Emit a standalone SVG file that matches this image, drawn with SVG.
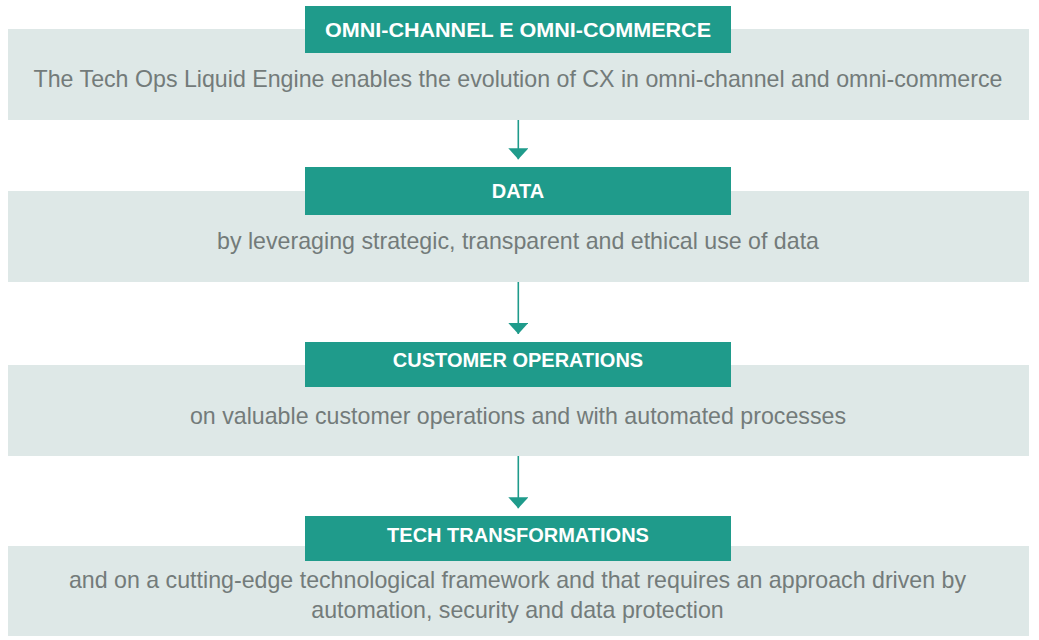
<svg xmlns="http://www.w3.org/2000/svg" width="1039" height="640" viewBox="0 0 1039 640">
  <style>
    .box { fill: #dee8e7; }
    .head { fill: #1f9b8b; }
    .ht { font-family: "Liberation Sans", Arial, sans-serif; font-weight: bold; font-size: 20px; fill: #ffffff; text-anchor: middle; }
    .bt { font-family: "Liberation Sans", Arial, sans-serif; font-size: 23.2px; fill: #737b7a; text-anchor: middle; }
    .conn { stroke: #1f9b8b; stroke-width: 1.6; fill: none; }
  </style>
  <defs>
    <marker id="arr" markerUnits="userSpaceOnUse" markerWidth="11" markerHeight="20" refX="11" refY="10" orient="auto">
      <path d="M0,0 L11,10 L0,20 Z" fill="#1f9b8b"/>
    </marker>
  </defs>
  <rect width="1039" height="640" fill="#ffffff"/>

  <g id="node-omni">
    <rect class="box" x="8" y="29" width="1021" height="91"/>
    <rect class="head" x="305" y="6" width="426" height="47"/>
    <text class="ht" x="518" y="36.7" textLength="386" lengthAdjust="spacingAndGlyphs">OMNI-CHANNEL E OMNI-COMMERCE</text>
    <text class="bt" x="518" y="86.7">The Tech Ops Liquid Engine enables the evolution of CX in omni-channel and omni-commerce</text>
  </g>

  <g id="node-data">
    <rect class="box" x="8" y="191" width="1021" height="91"/>
    <rect class="head" x="305" y="167" width="426" height="48"/>
    <text class="ht" x="518" y="198.3">DATA</text>
    <text class="bt" x="518" y="249">by leveraging strategic, transparent and ethical use of data</text>
  </g>

  <g id="node-customer">
    <rect class="box" x="8" y="365" width="1021" height="91"/>
    <rect class="head" x="305" y="342" width="426" height="45"/>
    <text class="ht" x="518" y="367.3">CUSTOMER OPERATIONS</text>
    <text class="bt" x="518" y="423.5">on valuable customer operations and with automated processes</text>
  </g>

  <g id="node-tech">
    <rect class="box" x="8" y="546" width="1021" height="90"/>
    <rect class="head" x="305" y="516" width="426" height="45"/>
    <text class="ht" x="518" y="541.7">TECH TRANSFORMATIONS</text>
    <text class="bt" x="517.5" y="588.3">and on a cutting-edge technological framework and that requires an approach driven by</text>
    <text class="bt" x="517.5" y="618.3">automation, security and data protection</text>
  </g>

  <g id="connectors">
    <path class="conn" d="M518.3,120 L518.3,159.3" marker-end="url(#arr)"/>
    <path class="conn" d="M518.3,282 L518.3,334" marker-end="url(#arr)"/>
    <path class="conn" d="M518.3,456 L518.3,508.3" marker-end="url(#arr)"/>
  </g>
</svg>
